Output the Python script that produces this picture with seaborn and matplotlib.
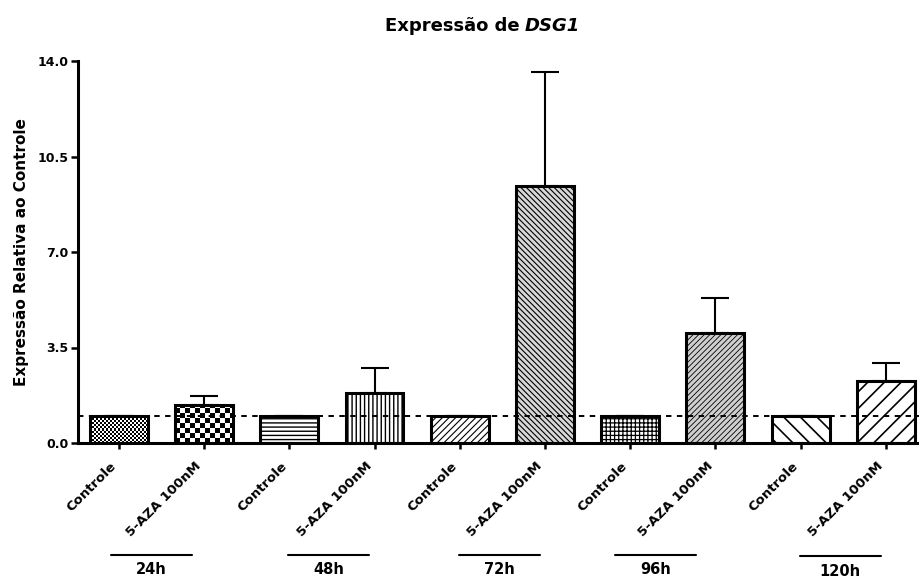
import numpy as np
import pandas as pd
import matplotlib
matplotlib.use("Agg")
import matplotlib.pyplot as plt
from matplotlib.transforms import blended_transform_factory, ScaledTranslation
from matplotlib.lines import Line2D
import seaborn as sns

# ---- data -------------------------------------------------------------
groups = ["24h", "48h", "72h", "96h", "120h"]
treatments = ["Controle", "5-AZA 100nM"]
controle_mean = [1.0, 1.0, 1.0, 1.0, 1.0]
aza_mean = [1.39, 1.84, 9.43, 4.04, 2.27]
aza_sem = [0.33, 0.90, 4.16, 1.28, 0.65]
controle_sem = [0.0, 0.0, 0.0, 0.0, 0.0]
yticks = [0.0, 3.5, 7.0, 10.5, 14.0]

rows = []
for g, cm, cs, am, asem in zip(groups, controle_mean, controle_sem, aza_mean, aza_sem):
    rows.append({"grupo": g, "tratamento": treatments[0], "key": f"{g} {treatments[0]}", "valor": cm, "sem": cs})
    rows.append({"grupo": g, "tratamento": treatments[1], "key": f"{g} {treatments[1]}", "valor": am, "sem": asem})
df = pd.DataFrame(rows)

# ---- style ------------------------------------------------------------
sns.set_style("ticks")
plt.rcParams["font.family"] = ["DejaVu Sans"]
plt.rcParams["font.weight"] = "bold"
plt.rcParams["hatch.linewidth"] = 1.0
plt.rcParams["text.color"] = "black"
plt.rcParams["axes.labelcolor"] = "black"
plt.rcParams["xtick.color"] = "black"
plt.rcParams["ytick.color"] = "black"
plt.rcParams["axes.edgecolor"] = "black"

W, H = 919, 580
fig = plt.figure(figsize=(W / 100, H / 100), dpi=100)
ax = fig.add_axes([78 / W, 1 - 443 / H, 841 / W, 382 / H])

sns.barplot(data=df, x="key", y="valor", order=list(df["key"]), width=0.68,
            color="white", edgecolor="black", linewidth=2.2, errorbar=None,
            saturation=1, ax=ax)

xlim = (-0.48, 9.39)
ylim = (0, 14.0)

# hatch pattern for each bar: (hatch, facecolor, hatch linewidth)
patterns = [
    (None, "white", 1.0),          # fine checker (image)
    (None, "white", 1.0),          # coarse checker (image)
    ("----", "white", 1.0),
    ("||||", "white", 1.0),
    ("/////", "white", 0.8),
    ("\\\\\\\\\\\\", "#d8d8d8", 0.8),
    ("++++", "white", 0.9),
    ("//////", "#cfcfcf", 0.6),
    ("\\\\", "white", 1.2),
    ("//", "white", 1.2),
]
checker_sizes = {0: 2, 1: 5}

px_per_x = 841 / (xlim[1] - xlim[0])
px_per_y = 382 / (ylim[1] - ylim[0])

for i, p in enumerate(ax.patches):
    hatch, fc, hlw = patterns[i]
    p.set_facecolor(fc)
    p.set_edgecolor("black")
    p.set_zorder(2)
    if hatch:
        p.set_hatch(hatch)
        if hasattr(p, "set_hatch_linewidth"):
            p.set_hatch_linewidth(hlw)
    if i in checker_sizes:
        s = checker_sizes[i]
        x0, y0 = p.get_x(), p.get_y()
        w, h = p.get_width(), p.get_height()
        nx = int(round(w * px_per_x))
        ny = int(round(h * px_per_y))
        jj, ii = np.mgrid[0:ny, 0:nx]
        board = ((ii // s) + (jj // s)) % 2
        ax.imshow(board, extent=[x0, x0 + w, y0, y0 + h], cmap="gray",
                  vmin=0, vmax=1, interpolation="nearest", aspect="auto",
                  origin="lower", zorder=1.5)
        p.set_facecolor("none")

# upper error bars (SEM)
xs = np.arange(len(df))
ax.errorbar(xs, df["valor"], yerr=[np.zeros(len(df)), df["sem"]],
            fmt="none", ecolor="black", elinewidth=1.5, capsize=10.4,
            capthick=1.5, zorder=1.8)
# reference line at 1.0
ax.axhline(1.0, color="black", linestyle=(0, (2.8, 2.8)), linewidth=1.4, zorder=5)

ax.set_xlim(*xlim)
ax.set_ylim(*ylim)
ax.set_yticks(yticks)
ax.set_yticklabels([f"{v:.1f}" for v in yticks], fontsize=9, fontweight="bold")
ax.set_xticks(xs)
ax.set_xticklabels(list(df["tratamento"]), rotation=45, ha="right",
                   fontsize=9.5, fontweight="bold")
shift = ScaledTranslation(3 / 100, 0, fig.dpi_scale_trans)
for lbl in ax.get_xticklabels():
    lbl.set_transform(lbl.get_transform() + shift)
ax.tick_params(axis="x", length=4, width=1.8, pad=8, direction="out")
ax.tick_params(axis="y", length=5, width=1.8, pad=2, direction="out")
ax.set_xlabel("")
ax.set_ylabel("Expressão Relativa ao Controle", fontsize=11, fontweight="bold",
              labelpad=6)

sns.despine(ax=ax)
for side in ("left", "bottom"):
    ax.spines[side].set_linewidth(2.2)
ax.spines["bottom"].set_bounds(xlim[0], xlim[1])

# group brackets under the tick labels
trans = blended_transform_factory(ax.transData, fig.transFigure)
line_starts = [-0.09, 1.99, 3.99, 5.82, 7.99]
line_y = [1 - 555 / H] * 4 + [1 - 556 / H]
text_y = [1 - 570 / H] * 4 + [1 - 572 / H]
for g, x0, ly, ty in zip(groups, line_starts, line_y, text_y):
    ax.add_line(Line2D([x0, x0 + 0.95], [ly, ly], transform=trans,
                       color="black", linewidth=1.5, clip_on=False))
    ax.text(x0 + 0.475, ty, g, transform=trans, ha="center", va="center",
            fontsize=10.5, fontweight="bold", clip_on=False)

# title with the gene name in italics
renderer = fig.canvas.get_renderer()
t1 = fig.text(0, 1 - 26 / H, "Expressão de", fontsize=13, fontweight="bold",
              ha="left", va="center")
t2 = fig.text(0, 1 - 26 / H, "DSG1", fontsize=13, fontweight="bold",
              style="italic", ha="left", va="center")
w1 = t1.get_window_extent(renderer).width
w2 = t2.get_window_extent(renderer).width
gap = 5
start = 482 - (w1 + gap + w2) / 2
t1.set_x(start / W)
t2.set_x((start + w1 + gap) / W)

fig.savefig("out.png", dpi=100)
